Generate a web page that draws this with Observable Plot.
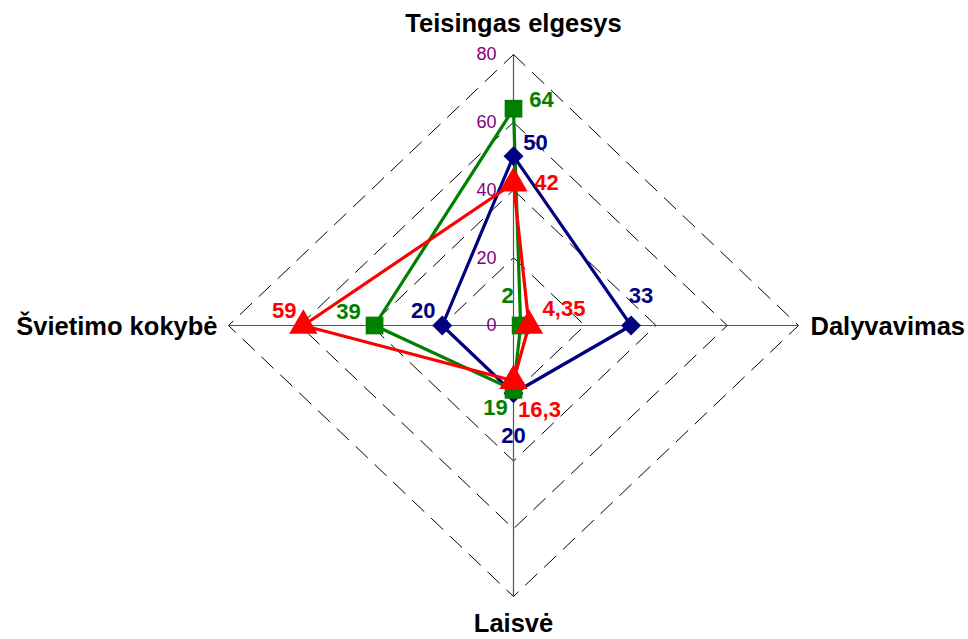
<!DOCTYPE html>
<html>
<head>
<meta charset="utf-8">
<script src="https://cdn.jsdelivr.net/npm/d3@7"></script>
<script src="https://cdn.jsdelivr.net/npm/@observablehq/plot@0.6"></script>
<style>
  html, body { margin: 0; padding: 0; background: #fff; }
</style>
</head>
<body>
<div id="chart"></div>
<script>
// ---- data ----
const axisNames = ["Teisingas elgesys", "Dalyvavimas", "Laisvė", "Švietimo kokybė"];
const seriesNames = ["Serija 1", "Serija 2", "Serija 3"];
const blueValues = [50, 33, 20, 20];
const greenValues = [64, 2, 19, 39];
const redValues = [42, 4.35, 16.3, 59];
const blueLabels = ["50", "33", "20", "20"];
const greenLabels = ["64", "2", "19", "39"];
const redLabels = ["42", "4,35", "16,3", "59"];
const ticks = [0, 20, 40, 60, 80];

// ---- styling ----
const dirs = [[0, 1], [1, 0], [0, -1], [-1, 0]]; // axis directions: top, right, bottom, left
const seriesStyle = [
  {color: "#000080", symbol: "diamond2", r: 9},
  {color: "#008000", symbol: "square", r: 10},
  {color: "#ff0000", symbol: "triangle", r: 10.5}
];
const labelOffsets = [
  [[22, -13], [10, -30], [0, 43], [-19, -15]],
  [[28, -9], [-13, -30], [-18, 18], [-26, -14]],
  [[33, 0], [35, -17], [26, 29], [-19, -15]]
];
const maxV = ticks[ticks.length - 1];

const allValues = [blueValues, greenValues, redValues];
const allLabels = [blueLabels, greenLabels, redLabels];

const points = [];
allValues.forEach((vals, s) => {
  vals.forEach((v, i) => {
    points.push({
      series: seriesNames[s], s, i,
      x: dirs[i][0] * v, y: dirs[i][1] * v,
      label: allLabels[s][i],
      dx: labelOffsets[s][i][0], dy: labelOffsets[s][i][1]
    });
  });
});
// closed polygons
const polys = [];
allValues.forEach((vals, s) => {
  [0, 1, 2, 3, 0].forEach((i, k) => {
    polys.push({series: seriesNames[s], s, k, x: dirs[i][0] * vals[i], y: dirs[i][1] * vals[i]});
  });
});
const rings = [];
ticks.filter(t => t > 0).forEach(t => {
  [0, 1, 2, 3, 0].forEach((i, k) => rings.push({ring: t, k, x: dirs[i][0] * t, y: dirs[i][1] * t}));
});
const spokes = axisNames.map((name, i) => ({name, i, x2: dirs[i][0] * maxV, y2: dirs[i][1] * maxV}));
const tickData = ticks.map(t => ({t, label: String(t)}));

const marks = [
  Plot.line(rings, {x: "x", y: "y", z: "ring", stroke: "#000", strokeWidth: 1, strokeDasharray: "16,10"}),
  Plot.link(spokes, {x1: 0, y1: 0, x2: "x2", y2: "y2", stroke: "#555", strokeWidth: 1.2}),
  Plot.text(tickData, {x: 0, y: "t", text: "label", textAnchor: "end", dx: -17, fill: "#800080", fontSize: 18}),
];
seriesStyle.forEach((st, s) => {
  marks.push(Plot.line(polys.filter(d => d.s === s), {x: "x", y: "y", stroke: st.color, strokeWidth: 3.2, curve: "linear"}));
});
seriesStyle.forEach((st, s) => {
  marks.push(Plot.dot(points.filter(d => d.s === s), {x: "x", y: "y", symbol: st.symbol, r: st.r, fill: st.color, stroke: "none"}));
});
seriesStyle.forEach((st, s) => {
  const pts = points.filter(d => d.s === s);
  pts.forEach(p => {
    marks.push(Plot.text([p], {x: "x", y: "y", text: "label", dx: p.dx, dy: p.dy, fill: st.color, fontWeight: "bold", fontSize: 22}));
  });
});
// axis titles
const titleSpec = [
  {dx: 0, dy: -31, anchor: "middle"},
  {dx: 12, dy: 1, anchor: "start"},
  {dx: 0, dy: 27, anchor: "middle"},
  {dx: -11, dy: 1, anchor: "end"}
];
spokes.forEach((sp, i) => {
  marks.push(Plot.text([sp], {x: "x2", y: "y2", text: "name", dx: titleSpec[i].dx, dy: titleSpec[i].dy, textAnchor: titleSpec[i].anchor, fill: "#000", fontWeight: "bold", fontSize: 25.5}));
});

const chart = Plot.plot({
  width: 968,
  height: 639,
  margin: 0,
  style: {fontFamily: "Arial, 'Liberation Sans', sans-serif", background: "#fff"},
  x: {domain: [-maxV, maxV], range: [228, 798], axis: null},
  y: {domain: [-maxV, maxV], range: [596, 54], axis: null},
  marks
});
document.getElementById("chart").appendChild(chart);
</script>
</body>
</html>
